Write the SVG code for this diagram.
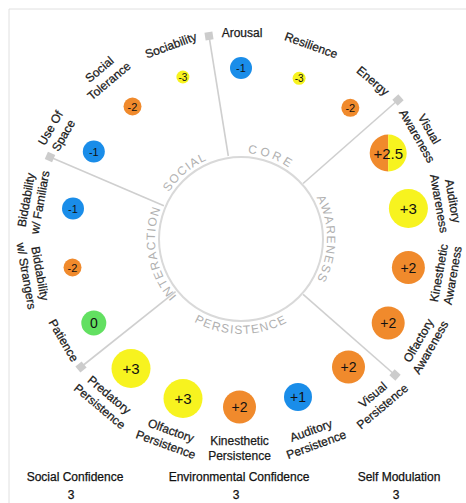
<svg xmlns="http://www.w3.org/2000/svg" width="466" height="503" viewBox="0 0 466 503">
<style>
.lbl{font-family:"Liberation Sans","DejaVu Sans",sans-serif;font-size:12px;fill:#1a1a1a;stroke:#1a1a1a;stroke-width:0.25;text-anchor:middle}
.num{font-family:"Liberation Sans","DejaVu Sans",sans-serif;fill:#111;text-anchor:middle}
.sec{font-family:"Liberation Sans","DejaVu Sans",sans-serif;font-size:12px;fill:#b0b0b0;letter-spacing:1.2px}
.ft{font-family:"Liberation Sans","DejaVu Sans",sans-serif;font-size:12px;fill:#111;stroke:#111;stroke-width:0.25;text-anchor:middle}
.blue{fill:#1a8de9}.orange{fill:#f08a2c}.yellow{fill:#f7f31f}.green{fill:#62e061}
.spoke{stroke:#cfcfcf;stroke-width:1.6;fill:none}
.sq{fill:#cccccc}
</style>
<defs>
<path id="cw" d="M241,153 A86,86 0 1,1 241,325 A86,86 0 1,1 241,153"/>
<path id="ccw" d="M146,239 A95,95 0 0,0 336,239"/>
</defs>
<rect width="466" height="503" fill="#ffffff"/>
<path d="M9,503 V9 H466" fill="none" stroke="#e0e0e0" stroke-width="1"/>

<g id="hub">
<circle cx="241" cy="239" r="82" fill="none" stroke="#d9d9d9" stroke-width="2"/>
<text class="sec"><textPath href="#cw" startOffset="88.9%" text-anchor="middle">SOCIAL</textPath></text>
<text class="sec" style="letter-spacing:3px"><textPath href="#cw" startOffset="5.6%" text-anchor="middle">CORE</textPath></text>
<text class="sec"><textPath href="#cw" startOffset="25%" text-anchor="middle">AWARENESS</textPath></text>
<text class="sec"><textPath href="#cw" startOffset="72.2%" text-anchor="middle">INTERACTION</textPath></text>
<text class="sec"><textPath href="#ccw" startOffset="50%" text-anchor="middle">PERSISTENCE</textPath></text>
</g>

<g id="connectors">
<line class="spoke" x1="228.3" y1="156" x2="209" y2="36"/>
<line class="spoke" x1="303.1" y1="183.5" x2="398" y2="100"/>
<line class="spoke" x1="303.1" y1="294.4" x2="395" y2="375"/>
<line class="spoke" x1="175.6" y1="291.7" x2="81" y2="367"/>
<line class="spoke" x1="163.9" y1="205.7" x2="50" y2="157"/>
<rect class="sq" x="-4" y="-4" width="8" height="8" transform="translate(209,36) rotate(-8.7)"/>
<rect class="sq" x="-4" y="-4" width="8" height="8" transform="translate(398,100) rotate(48.7)"/>
<rect class="sq" x="-4" y="-4" width="8" height="8" transform="translate(395,375) rotate(131.3)"/>
<rect class="sq" x="-4" y="-4" width="8" height="8" transform="translate(81,367) rotate(231.2)"/>
<rect class="sq" x="-4" y="-4" width="8" height="8" transform="translate(50,157) rotate(293.3)"/>
</g>

<g id="arousal">
<circle class="blue" cx="241" cy="68" r="11"/><text class="num" x="241" y="72" font-size="11">-1</text>
<text class="lbl" transform="translate(242,33)" y="4">Arousal</text>
</g>
<g id="resilience">
<circle class="yellow" cx="299.1" cy="78.3" r="6.5"/><text class="num" x="299.1" y="82" font-size="10">-3</text>
<text class="lbl" transform="translate(311.1,45.4) rotate(20)" y="4">Resilience</text>
</g>
<g id="energy">
<circle class="orange" cx="350.3" cy="107.8" r="9"/><text class="num" x="350.3" y="111.8" font-size="11">-2</text>
<text class="lbl" transform="translate(372.8,81) rotate(40)" y="4">Energy</text>
</g>
<g id="visual-awareness">
<path class="orange" d="M388.2,134.5 A18.5,18.5 0 0,0 388.2,171.5 Z"/>
<path class="yellow" d="M388.2,134.5 A18.5,18.5 0 0,1 388.2,171.5 Z"/>
<text class="num" x="388.2" y="158.5" font-size="15">+2.5</text>
<text class="lbl" transform="translate(417,136) rotate(60)"><tspan x="0" y="-10">Visual</tspan><tspan x="0" y="4">Awareness</tspan></text>
</g>
<g id="auditory-awareness">
<circle class="yellow" cx="408.4" cy="208.5" r="19.5"/><text class="num" x="408.4" y="213.5" font-size="15">+3</text>
<text class="lbl" transform="translate(439,203.5) rotate(80)"><tspan x="0" y="-10">Auditory</tspan><tspan x="0" y="4">Awareness</tspan></text>
</g>
<g id="kinesthetic-awareness">
<circle class="orange" cx="408.4" cy="267.5" r="16.5"/><text class="num" x="408.4" y="272.5" font-size="14">+2</text>
<text class="lbl" transform="translate(439,273) rotate(-80)"><tspan x="0" y="4">Kinesthetic</tspan><tspan x="0" y="18">Awareness</tspan></text>
</g>
<g id="olfactory-awareness">
<circle class="orange" cx="388.2" cy="323" r="16.5"/><text class="num" x="388.2" y="328" font-size="14">+2</text>
<text class="lbl" transform="translate(418.5,340.5) rotate(-60)"><tspan x="0" y="4">Olfactory</tspan><tspan x="0" y="18">Awareness</tspan></text>
</g>
<g id="visual-persistence">
<circle class="orange" cx="348.5" cy="367" r="16.5"/><text class="num" x="348.5" y="372" font-size="14">+2</text>
<text class="lbl" transform="translate(372.8,395) rotate(-40)"><tspan x="0" y="4">Visual</tspan><tspan x="0" y="19">Persistence</tspan></text>
</g>
<g id="auditory-persistence">
<circle class="blue" cx="298" cy="397" r="14"/><text class="num" x="298" y="402" font-size="14">+1</text>
<text class="lbl" transform="translate(311.1,430.6) rotate(-20)"><tspan x="0" y="4">Auditory</tspan><tspan x="0" y="19">Persistence</tspan></text>
</g>
<g id="kinesthetic-persistence">
<circle class="orange" cx="239.5" cy="407" r="16.5"/><text class="num" x="239.5" y="412" font-size="14">+2</text>
<text class="lbl" transform="translate(239.5,441)"><tspan x="0" y="4">Kinesthetic</tspan><tspan x="0" y="19">Persistence</tspan></text>
</g>
<g id="olfactory-persistence">
<circle class="yellow" cx="183" cy="398.5" r="19.5"/><text class="num" x="183" y="403.5" font-size="15">+3</text>
<text class="lbl" transform="translate(170.9,430.6) rotate(20)"><tspan x="0" y="4">Olfactory</tspan><tspan x="0" y="19">Persistence</tspan></text>
</g>
<g id="predatory-persistence">
<circle class="yellow" cx="131" cy="368.5" r="19.5"/><text class="num" x="131" y="373.5" font-size="15">+3</text>
<text class="lbl" transform="translate(109.2,395) rotate(40)"><tspan x="0" y="4">Predatory</tspan><tspan x="0" y="19">Persistence</tspan></text>
</g>
<g id="patience">
<circle class="green" cx="93.8" cy="323" r="12.5"/><text class="num" x="93.8" y="328" font-size="14">0</text>
<text class="lbl" transform="translate(63.5,340.5) rotate(60)" y="4">Patience</text>
</g>
<g id="biddability-strangers">
<circle class="orange" cx="72.5" cy="267.5" r="9"/><text class="num" x="72.5" y="271.5" font-size="11">-2</text>
<text class="lbl" transform="translate(40,273.6) rotate(80)"><tspan x="0" y="4">Biddability</tspan><tspan x="0" y="18">w/ Strangers</tspan></text>
</g>
<g id="biddability-familiars">
<circle class="blue" cx="73" cy="208.5" r="11"/><text class="num" x="73" y="212.5" font-size="11">-1</text>
<text class="lbl" transform="translate(40,202.4) rotate(-80)"><tspan x="0" y="-10">Biddability</tspan><tspan x="0" y="4">w/ Familiars</tspan></text>
</g>
<g id="use-of-space">
<circle class="blue" cx="93.8" cy="151.5" r="11"/><text class="num" x="93.8" y="155.5" font-size="11">-1</text>
<text class="lbl" transform="translate(63.5,135.5) rotate(-60)"><tspan x="0" y="-11">Use Of</tspan><tspan x="0" y="4">Space</tspan></text>
</g>
<g id="social-tolerance">
<circle class="orange" cx="132.5" cy="106.5" r="9"/><text class="num" x="132.5" y="110.5" font-size="11">-2</text>
<text class="lbl" transform="translate(109.2,81) rotate(-40)"><tspan x="0" y="-11">Social</tspan><tspan x="0" y="4">Tolerance</tspan></text>
</g>
<g id="sociability">
<circle class="yellow" cx="182.9" cy="77" r="6.5"/><text class="num" x="182.9" y="80.7" font-size="10">-3</text>
<text class="lbl" transform="translate(170.9,45.4) rotate(-20)" y="4">Sociability</text>
</g>

<g id="summary">
<text class="ft" x="75" y="481">Social Confidence</text>
<text class="ft" x="71" y="499">3</text>
<text class="ft" x="239" y="481">Environmental Confidence</text>
<text class="ft" x="236" y="499">3</text>
<text class="ft" x="399" y="481">Self Modulation</text>
<text class="ft" x="396" y="499">3</text>
</g>
</svg>
